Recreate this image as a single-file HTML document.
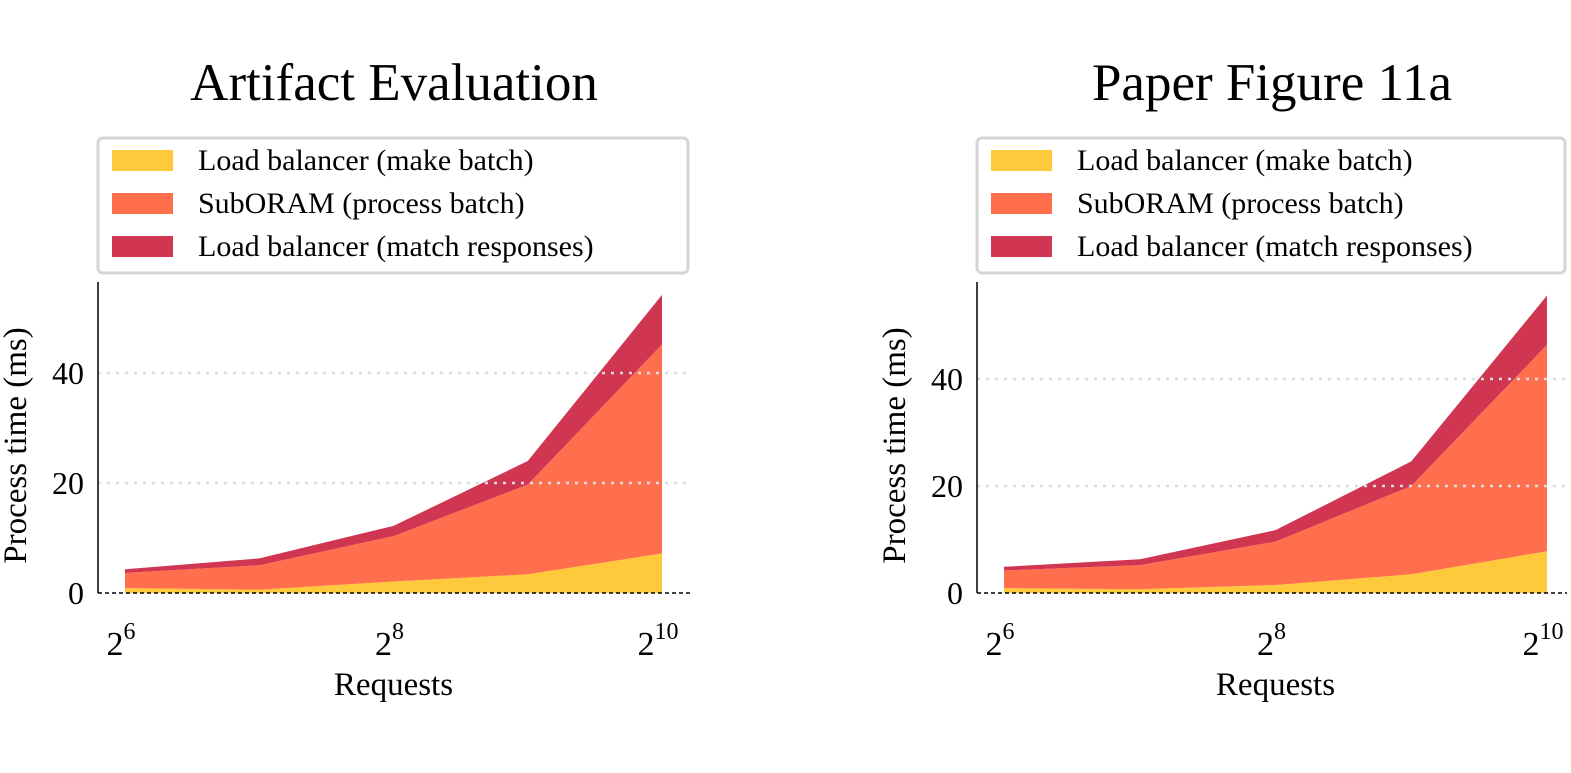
<!DOCTYPE html>
<html><head><meta charset="utf-8"><style>
body{margin:0;background:#fff;}
svg text{font-family:"Liberation Serif",serif;fill:#000;}
</style></head><body>
<svg id="fig" width="1571" height="768" xmlns="http://www.w3.org/2000/svg"></svg>
<script>
const xCats=[64,128,256,512,1024];
const leftYellow=[0.9,0.6,2.1,3.4,7.2];
const leftOrange=[2.75,4.45,8.25,16.3,38];
const leftRed=[0.65,1.25,1.85,4.3,9];
const rightYellow=[0.9,0.7,1.5,3.5,7.8];
const rightOrange=[3.3,4.5,8.1,16.5,38.6];
const rightRed=[0.7,1.1,2.15,4.6,9.2];
const yTicks=[0,20,40];
const xTickExps=[6,8,10];
const legendLabels=["Load balancer (make batch)","SubORAM (process batch)","Load balancer (match responses)"];
const colors=["#FFC93C","#FF6F4E","#D03552"];
const NS="http://www.w3.org/2000/svg";
const svg=document.getElementById('fig');
function mk(tag,attrs,parent){const e=document.createElementNS(NS,tag);for(const k in attrs)e.setAttribute(k,attrs[k]);(parent||svg).appendChild(e);return e;}
function panel(cfg){
  const g=mk('g',{});
  
  
  const xs=v=>cfg.x0+(Math.log2(v)-6)/4*(cfg.x1-cfg.x0);
  const ys=v=>cfg.y0-v*cfg.ppu;
  const t=mk('text',{x:cfg.tx,y:100,'font-size':53,'text-anchor':'middle'},g);t.textContent=cfg.title;
  
  
  const series=[cfg.yel,cfg.ora,cfg.red];
  let base=xCats.map(()=>0);
  series.forEach((s,i)=>{
    const top=base.map((b,j)=>b+s[j]);
    let d='M'+xCats.map((c,j)=>xs(c)+','+ys(top[j])).join(' L');
    for(let j=xCats.length-1;j>=0;j--)d+=' L'+xs(xCats[j])+','+ys(base[j]);
    const p=mk('path',{d:d+'Z',fill:colors[i]},g);
    
    
    base=top;
  });
  yTicks.forEach(v=>{
    if(v>0){const l=mk('line',{x1:cfg.ax,x2:cfg.right,y1:ys(v),y2:ys(v),stroke:'#ddd','stroke-width':2.5,'stroke-dasharray':'3,6'},g);
    
    }
    const tx=mk('text',{x:cfg.ax-14,y:ys(v)+11,'font-size':32,'text-anchor':'end'},g);tx.textContent=v;
    
    
  });
  const zl=mk('line',{x1:cfg.ax,x2:cfg.right,y1:cfg.y0,y2:cfg.y0,stroke:'#000','stroke-width':1.5,'stroke-dasharray':'4,3'},g);
  
  
  const ya=mk('line',{x1:cfg.ax,x2:cfg.ax,y1:282,y2:cfg.y0,stroke:'#000','stroke-width':1.5},g);
  
  
  xTickExps.forEach(e=>{
    const tx=mk('text',{x:xs(Math.pow(2,e))-4,y:655,'font-size':34,'text-anchor':'middle'},g);
    tx.innerHTML='2<tspan dy="-16" font-size="24">'+e+'</tspan>';
    
    
  });
  const xl=mk('text',{x:(cfg.x0+cfg.x1)/2,y:695,'font-size':33,'text-anchor':'middle'},g);xl.textContent='Requests';
  
  
  const yl=mk('text',{x:0,y:0,'font-size':33,'text-anchor':'middle',transform:'translate('+(cfg.ax-72)+','+((282+cfg.y0)/2+8)+') rotate(-90)'},g);yl.textContent='Process time (ms)';
  
  
  const lg=mk('g',{},g);
  
  
  mk('rect',{x:cfg.ax,y:138,width:cfg.right-cfg.ax-2,height:135,rx:5,fill:'#fff',stroke:'#d5d5d5','stroke-width':3},lg);
  legendLabels.forEach((lab,i)=>{
    const ent=mk('g',{},lg);
    
    
    mk('rect',{x:cfg.ax+14,y:150+i*43,width:61,height:21,fill:colors[i]},ent);
    const tx=mk('text',{x:cfg.ax+100,y:170+i*43,'font-size':30},ent);tx.textContent=lab;
  });
}
panel({name:'left-chart',title:'Artifact Evaluation',tx:394,ax:98,right:690,x0:125,x1:662,y0:593,ppu:5.5,yel:leftYellow,ora:leftOrange,red:leftRed});
panel({name:'right-chart',title:'Paper Figure 11a',tx:1272,ax:977,right:1567,x0:1004,x1:1547,y0:593,ppu:5.35,yel:rightYellow,ora:rightOrange,red:rightRed});
</script>
</body></html>
